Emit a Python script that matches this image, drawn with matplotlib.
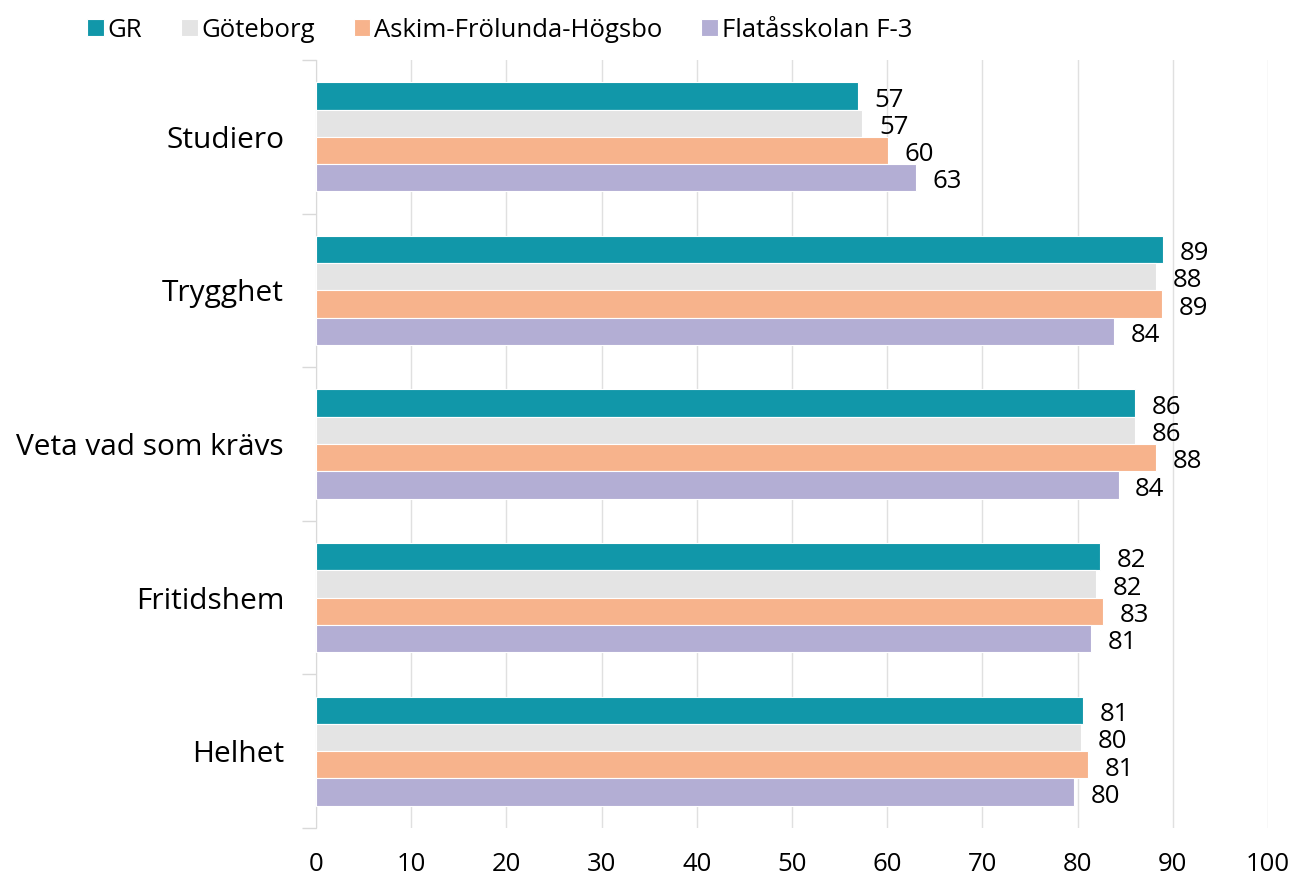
import numpy as np
import matplotlib
matplotlib.use("Agg")
import matplotlib.pyplot as plt

plt.rcParams['font.family'] = ['Open Sans', 'DejaVu Sans']

categories = ['Studiero', 'Trygghet', 'Veta vad som krävs', 'Fritidshem', 'Helhet']
series = ['GR', 'Göteborg', 'Askim-Frölunda-Högsbo', 'Flatåsskolan F-3']
gr = [56.9, 89.0, 86.0, 82.4, 80.6]
goteborg = [57.4, 88.2, 86.0, 81.9, 80.4]
askim = [60.1, 88.9, 88.2, 82.7, 81.1]
flatas = [63.0, 83.8, 84.3, 81.4, 79.6]
xticks = [0, 10, 20, 30, 40, 50, 60, 70, 80, 90, 100]

colors = ['#1197A9', '#E4E4E4', '#F7B38C', '#B3AED4']
values = [gr, goteborg, askim, flatas]

fig = plt.figure(figsize=(12.91, 8.75), dpi=100)
ax = fig.add_axes([0.2448, 0.0537, 0.7374, 0.8777])

n = len(series)
bh = 0.71 / n
ypos = np.arange(len(categories))
for i, (name, vals, c) in enumerate(zip(series, values, colors)):
    y = ypos - 0.355 + bh * (i + 0.5)
    ax.barh(y, vals, height=bh, color=c, edgecolor='white', linewidth=0.8, label=name, zorder=3)
    for yy, v in zip(y, vals):
        ax.annotate(f'{round(v):d}', (v, yy), xytext=(12, -3), textcoords='offset points',
                    va='center', ha='left', fontsize=18.5, color='#000000')

ax.set_ylim(len(categories) - 0.5, -0.5)
ax.set_xlim(0, 100)
ax.set_xticks(xticks)
ax.set_yticks(ypos)
ax.set_yticklabels(categories, fontsize=21.5)
ax.set_yticks(np.arange(len(categories) + 1) - 0.5, minor=True)
ax.tick_params(axis='y', which='major', length=0, pad=23)
ax.tick_params(axis='y', which='minor', length=10, color='#D9D9D9', width=1)
ax.tick_params(axis='x', length=0, labelsize=18.5, pad=17)
ax.grid(axis='x', color='#E0E0E0', linewidth=1, zorder=0)
for s in ['top', 'right', 'bottom']:
    ax.spines[s].set_visible(False)
ax.spines['left'].set_color('#D9D9D9')

fig.legend(loc='upper left', bbox_to_anchor=(0.0496, 1.006), ncol=4, frameon=False,
           fontsize=18.5, handlelength=0.65, handleheight=0.65, handletextpad=0.15,
           columnspacing=1.5)

fig.savefig('out.png', dpi=100)
